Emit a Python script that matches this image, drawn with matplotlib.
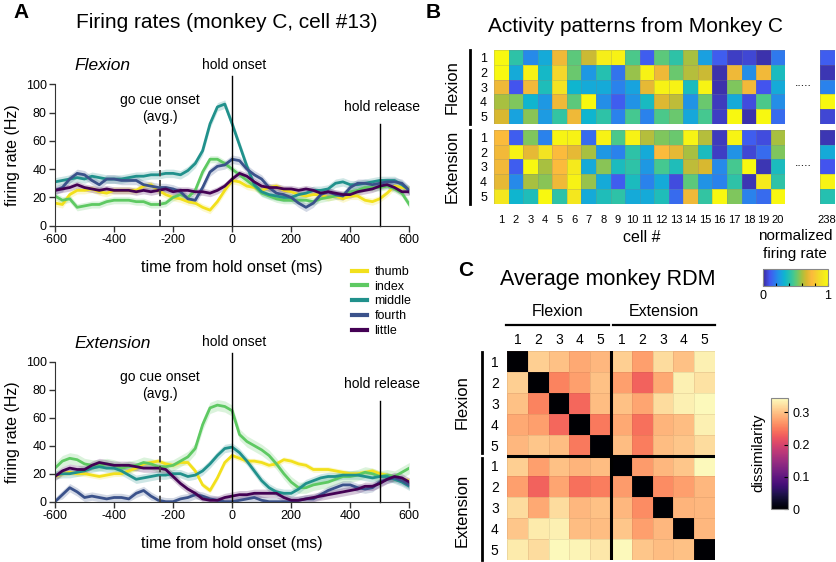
import matplotlib
matplotlib.use("Agg")
import matplotlib.pyplot as plt
import numpy as np
from matplotlib.colors import LinearSegmentedColormap, Normalize
from matplotlib.cm import ScalarMappable
from matplotlib.lines import Line2D

plt.rcParams['font.family'] = ['Liberation Sans', 'DejaVu Sans']
plt.rcParams['axes.unicode_minus'] = False

# ---------------- data ----------------
t = np.arange(-600, 601, 25)
fingers = ["thumb", "index", "middle", "fourth", "little"]
finger_colors = ["#f2e01c", "#5ec962", "#21918c", "#3b528b", "#440154"]

flex_thumb = [16, 15, 22, 25, 25, 26, 24, 23, 25,
              25, 25, 25, 28, 29, 25, 22, 20,
              19, 17, 16, 13, 11, 17, 25, 32,
              31, 28, 27, 25, 27, 28, 25, 24,
              22, 21, 22, 22, 20, 21, 19, 21,
              21, 18, 17, 19, 23, 28, 27, 26]
flex_index = [21, 18, 19, 13, 14, 15, 15, 17, 18,
              18, 18, 17, 17, 15, 15, 16, 20,
              22, 20, 25, 38, 47, 47, 44, 40,
              36, 32, 28, 23, 21, 19, 18, 18,
              18, 18, 17, 19, 20, 21, 22, 24,
              25, 27, 27, 27, 28, 26, 23, 15]
flex_middle = [31, 32, 33, 34, 33, 35, 34, 33, 33,
               33, 34, 35, 35, 36, 36, 37, 37,
               36, 39, 44, 53, 72, 84, 86, 72,
               57, 42, 29, 24, 22, 21, 20, 20,
               22, 23, 25, 25, 26, 30, 31, 29,
               29, 30, 31, 32, 32, 32, 29, 25]
flex_fourth = [25, 27, 33, 37, 36, 32, 29, 33, 33,
               32, 32, 32, 29, 28, 27, 27, 26,
               24, 19, 18, 27, 38, 42, 43, 47,
               46, 40, 36, 33, 27, 23, 22, 20,
               16, 13, 16, 22, 24, 22, 21, 27,
               30, 30, 29, 30, 31, 31, 30, 25]
flex_little = [25, 26, 27, 29, 27, 26, 25, 26, 25,
               25, 25, 24, 25, 24, 25, 26, 24,
               25, 25, 24, 24, 23, 25, 28, 33,
               37, 35, 31, 28, 27, 27, 26, 26,
               25, 26, 25, 23, 24, 23, 22, 22,
               24, 25, 26, 28, 29, 27, 24, 24]

ext_thumb = [18, 20, 21, 20, 20, 19, 18, 19, 20,
             20, 22, 24, 27, 28, 29, 27, 26,
             28, 28, 22, 12, 8, 17, 28, 33,
             31, 29, 29, 28, 26, 27, 30, 29,
             27, 26, 23, 23, 23, 22, 21, 20,
             20, 21, 22, 20, 19, 17, 16, 15]
ext_index = [24, 29, 31, 30, 27, 26, 26, 27, 26,
             24, 25, 26, 28, 27, 25, 25, 26,
             29, 32, 38, 55, 67, 69, 68, 65,
             48, 43, 40, 37, 33, 27, 20, 14,
             10, 10, 12, 13, 14, 16, 18, 18,
             19, 21, 20, 18, 19, 18, 21, 24]
ext_middle = [19, 20, 20, 21, 22, 24, 25, 24, 24,
              22, 19, 16, 17, 18, 19, 19, 20,
              20, 18, 19, 22, 27, 33, 38, 39,
              35, 29, 22, 15, 10, 7, 6, 6,
              9, 13, 15, 17, 18, 18, 19, 19,
              19, 18, 17, 18, 18, 16, 14, 11]
ext_fourth = [0, 5, 10, 7, 3, 4, 3, 2, 3,
              3, 2, 6, 8, 4, 1, 0, 0,
              2, 3, 5, 4, 2, 1, 0, 0,
              1, 2, 3, 1, 0, 0, 0, 0,
              1, 2, 2, 5, 8, 10, 12, 12,
              10, 9, 10, 14, 16, 17, 15, 12]
ext_little = [18, 22, 24, 23, 23, 26, 28, 27, 26,
              26, 26, 25, 24, 24, 24, 23, 18,
              13, 9, 6, 2, 1, 1, 3, 4,
              5, 5, 6, 6, 6, 6, 3, 1,
              1, 2, 3, 4, 5, 6, 7, 8,
              9, 11, 11, 13, 16, 18, 17, 14]

flex_sem = [2.5, 2.5, 3.0, 3.0, 2.5]
ext_sem = [2.0, 4.0, 3.0, 3.0, 3.0]

# normalized activity patterns (rows = finger 1..5, cols = cells 1..20)
flex_pattern = [
    [1.00, 0.42, 0.22, 0.30, 0.72, 0.50, 0.65, 0.95, 0.97, 0.48, 0.12, 0.50, 0.42, 0.60, 0.27, 0.12, 0.05, 0.07, 0.02, 0.18],
    [1.00, 0.30, 0.97, 0.35, 0.85, 0.52, 0.25, 0.40, 0.17, 0.58, 0.97, 0.72, 0.52, 0.62, 0.65, 0.02, 0.72, 0.23, 0.73, 0.37],
    [0.72, 0.10, 0.73, 0.38, 0.90, 0.33, 0.30, 0.30, 0.20, 0.28, 0.70, 0.97, 0.97, 0.37, 0.98, 0.02, 0.55, 0.73, 0.10, 0.30],
    [0.60, 0.55, 0.33, 0.25, 0.72, 0.50, 1.00, 0.23, 0.12, 0.24, 0.36, 0.68, 0.63, 0.24, 0.52, 0.04, 0.30, 0.08, 0.48, 0.23],
    [0.67, 0.28, 0.56, 0.26, 0.43, 0.72, 0.33, 0.42, 0.20, 0.47, 0.20, 0.48, 0.52, 0.29, 0.47, 0.05, 1.00, 0.02, 1.00, 0.15],
]
ext_pattern = [
    [0.75, 0.12, 0.55, 0.20, 0.98, 0.97, 0.15, 0.97, 0.48, 0.97, 0.62, 0.55, 0.52, 0.98, 0.62, 0.04, 0.98, 0.12, 0.08, 0.60],
    [0.73, 0.97, 0.70, 0.90, 0.75, 0.70, 0.60, 0.25, 0.20, 0.42, 0.30, 0.75, 0.70, 0.60, 0.37, 0.05, 0.24, 0.07, 0.15, 0.55],
    [0.73, 0.12, 1.00, 0.60, 0.75, 0.93, 0.30, 0.56, 0.37, 0.42, 0.25, 0.47, 0.38, 0.63, 0.67, 0.22, 0.47, 1.00, 0.03, 0.37],
    [0.70, 0.22, 0.60, 0.56, 0.72, 0.97, 0.58, 0.30, 0.12, 0.37, 0.20, 0.30, 0.08, 0.50, 0.24, 0.20, 0.42, 0.03, 0.93, 0.42],
    [0.92, 0.33, 0.38, 1.00, 0.42, 0.92, 0.30, 0.38, 0.42, 0.30, 0.30, 0.38, 0.15, 0.72, 0.43, 1.00, 0.55, 0.20, 0.15, 1.00],
]
flex_cell238 = [0.12, 0.03, 0.20, 1.00, 0.07]
ext_cell238 = [0.03, 0.30, 0.10, 0.98, 0.40]
cell_labels = [str(i) for i in range(1, 21)]

# average RDM (order: flexion 1-5, extension 1-5)
rdm = [
    [0.000, 0.310, 0.300, 0.283, 0.293, 0.310, 0.276, 0.320, 0.300, 0.335],
    [0.310, 0.000, 0.255, 0.276, 0.300, 0.276, 0.231, 0.283, 0.335, 0.324],
    [0.300, 0.255, 0.000, 0.235, 0.297, 0.300, 0.280, 0.320, 0.335, 0.342],
    [0.283, 0.276, 0.235, 0.000, 0.248, 0.283, 0.242, 0.290, 0.297, 0.335],
    [0.293, 0.304, 0.297, 0.248, 0.000, 0.297, 0.252, 0.297, 0.304, 0.320],
    [0.310, 0.276, 0.300, 0.290, 0.297, 0.000, 0.273, 0.293, 0.304, 0.342],
    [0.276, 0.231, 0.280, 0.242, 0.252, 0.273, 0.000, 0.262, 0.276, 0.293],
    [0.320, 0.283, 0.320, 0.293, 0.300, 0.293, 0.262, 0.000, 0.290, 0.293],
    [0.304, 0.331, 0.335, 0.297, 0.297, 0.304, 0.276, 0.293, 0.000, 0.293],
    [0.331, 0.320, 0.342, 0.338, 0.328, 0.342, 0.304, 0.297, 0.300, 0.000],
]
rdm_max = 0.345

# ---------------- figure helpers ----------------
W, H = 837, 562
fig = plt.figure(figsize=(W / 100, H / 100), dpi=100)


def rect(l, t_, r, b):
    return [l / W, 1 - b / H, (r - l) / W, (b - t_) / H]


def ftext(x, y, s, **kw):
    fig.text(x / W, 1 - y / H, s, **kw)


def fline(x0, y0, x1, y1, **kw):
    fig.add_artist(Line2D([x0 / W, x1 / W], [1 - y0 / H, 1 - y1 / H], **kw))


# parula-like map, anchored on the colours seen in the figure
parula = LinearSegmentedColormap.from_list(
    "parula",
    [(0.00, '#3a2a9c'), (0.10, '#4355f0'), (0.20, '#2a82ec'), (0.27, '#1aa0e0'),
     (0.33, '#0fb5cf'), (0.40, '#25c0b0'), (0.47, '#45c890'), (0.53, '#70c868'),
     (0.60, '#a8c040'), (0.67, '#d8b830'), (0.75, '#fbba3c'), (0.87, '#f2dc28'),
     (1.00, '#f8f810')])

# ---------------- panel A ----------------
ftext(21, 13, "A", fontsize=15, fontweight='bold', ha='center', va='center')
ftext(227, 23, "Firing rates (monkey C, cell #13)", fontsize=15, ha='center', va='center')


def rate_panel(ax, series, sems, name):
    for y, s, c in zip(series, sems, finger_colors):
        y = np.array(y, dtype=float)
        ax.fill_between(t, np.clip(y - s, 0, None), y + s, color=c, alpha=0.22, lw=0)
    for y, c in zip(series, finger_colors):
        ax.plot(t, y, color=c, lw=2)
    ax.set_xlim(-600, 600)
    ax.set_ylim(0, 100)
    ax.set_xticks([-600, -400, -200, 0, 200, 400, 600])
    ax.set_yticks([0, 20, 40, 60, 80, 100])
    for sp in ['top', 'right']:
        ax.spines[sp].set_visible(False)
    for sp in ['left', 'bottom']:
        ax.spines[sp].set_color('#333333')
    ax.tick_params(direction='out', length=4, width=1, color='#333333', labelsize=9, pad=2)
    ax.set_ylabel("firing rate (Hz)", fontsize=11.5, labelpad=4)
    ax.set_xlabel("time from hold onset (ms)", fontsize=11.5, labelpad=10)
    # event markers
    ax.plot([-245, -245], [0, 70], color='#444444', lw=1.3, ls=(0, (3.5, 2)), clip_on=False)
    ax.plot([0, 0], [0, 106], color='k', lw=1, clip_on=False)
    ax.plot([500, 500], [0, 72], color='k', lw=1, clip_on=False)
    ax.text(-245, 89, "go cue onset", fontsize=10, ha='center', va='center')
    ax.text(-245, 77, "(avg.)", fontsize=10, ha='center', va='center')
    ax.text(8, 114, "hold onset", fontsize=10, ha='center', va='center')
    ax.text(507, 84, "hold release", fontsize=10, ha='center', va='center')
    ax.text(-535, 113, name, fontsize=12.5, style='italic', ha='left', va='center')


ax_f = fig.add_axes(rect(55, 84.3, 409.3, 225.7))
rate_panel(ax_f, [flex_thumb, flex_index, flex_middle, flex_fourth, flex_little], flex_sem, "Flexion")
ax_e = fig.add_axes(rect(55, 361.7, 409.3, 501.7))
rate_panel(ax_e, [ext_thumb, ext_index, ext_middle, ext_fourth, ext_little], ext_sem, "Extension")

handles = [Line2D([], [], color=c, lw=3) for c in finger_colors]
fig.legend(handles, fingers, loc='upper left', bbox_to_anchor=(352 / W, 1 - 266 / H),
           frameon=False, fontsize=9, handlelength=1.2, handletextpad=0.6,
           labelspacing=0.22, borderpad=0, borderaxespad=0)

# ---------------- panel B ----------------
ftext(433, 12, "B", fontsize=15, fontweight='bold', ha='center', va='center')
ftext(636, 26, "Activity patterns from Monkey C", fontsize=15, ha='center', va='center')

cell_w = (785.3 - 494) / 20
blocks = [(flex_pattern, flex_cell238, 50, 124, "Flexion"),
          (ext_pattern, ext_cell238, 130, 203.5, "Extension")]
for pat, c238, top, bot, name in blocks:
    ax = fig.add_axes(rect(494, top, 785.3, bot))
    ax.pcolormesh(np.array(pat), cmap=parula, vmin=0, vmax=1,
                  edgecolors=(0.5, 0.5, 0.5, 0.25), linewidth=0.4)
    ax.set_xlim(0, 20)
    ax.set_ylim(5, 0)
    ax.set_yticks(np.arange(5) + 0.5)
    ax.set_yticklabels(["1", "2", "3", "4", "5"], fontsize=9)
    ax.tick_params(length=0, pad=5)
    if name == "Extension":
        ax.set_xticks(np.arange(20) + 0.5)
        ax.set_xticklabels(cell_labels, fontsize=8)
        ax.tick_params(axis='x', pad=8)
    else:
        ax.set_xticks([])
    for sp in ax.spines.values():
        sp.set_visible(False)
    ax2 = fig.add_axes(rect(820, top, 820 + cell_w, bot))
    ax2.pcolormesh(np.array(c238)[:, None], cmap=parula, vmin=0, vmax=1,
                   edgecolors=(0.5, 0.5, 0.5, 0.25), linewidth=0.4)
    ax2.set_ylim(5, 0)
    ax2.set_yticks([])
    if name == "Extension":
        ax2.set_xticks([0.5])
        ax2.set_xticklabels(["238"], fontsize=8)
        ax2.tick_params(axis='x', length=0, pad=8)
    else:
        ax2.set_xticks([])
    for sp in ax2.spines.values():
        sp.set_visible(False)
    fline(470, top, 470, bot, color='k', lw=2)
    ftext(452, (top + bot) / 2, name, fontsize=12, rotation=90, ha='center', va='center')
    ftext(803, (top + bot) / 2 - 4, ".....", fontsize=9, ha='center', va='center')

ftext(642, 237, "cell #", fontsize=11.5, ha='center', va='center')
ftext(795, 236, "normalized", fontsize=11, ha='center', va='center')
ftext(795, 254, "firing rate", fontsize=11, ha='center', va='center')
cax1 = fig.add_axes(rect(763, 269, 828, 286))
cb1 = fig.colorbar(ScalarMappable(Normalize(0, 1), parula), cax=cax1, orientation='horizontal')
cb1.set_ticks([0, 0.2, 0.4, 0.6, 0.8, 1])
cb1.set_ticklabels(["0", "", "", "", "", "1"])
cb1.ax.tick_params(direction='in', length=2, labelsize=9, pad=3)
cb1.outline.set_edgecolor('#888888')

# ---------------- panel C ----------------
ftext(466, 270, "C", fontsize=15, fontweight='bold', ha='center', va='center')
ftext(608, 280, "Average monkey RDM", fontsize=15.5, ha='center', va='center')

axr = fig.add_axes(rect(507, 351, 715, 560))
axr.pcolormesh(np.array(rdm), cmap='magma', vmin=0, vmax=rdm_max,
               edgecolors=(0.5, 0.3, 0.2, 0.12), linewidth=0.4)
axr.set_xlim(0, 10)
axr.set_ylim(10, 0)
axr.axvline(5, color='k', lw=2.2)
axr.axhline(5, color='k', lw=2.2)
nums = ["1", "2", "3", "4", "5"] * 2
axr.set_xticks(np.arange(10) + 0.5)
axr.set_xticklabels(nums, fontsize=10)
axr.xaxis.tick_top()
axr.set_yticks(np.arange(10) + 0.5)
axr.set_yticklabels(nums, fontsize=10)
axr.tick_params(length=0, pad=3)
axr.tick_params(axis='y', pad=6)
for sp in axr.spines.values():
    sp.set_visible(False)

ftext(558, 312, "Flexion", fontsize=11.5, ha='center', va='center')
ftext(664, 312, "Extension", fontsize=11.5, ha='center', va='center')
fline(506, 325, 609, 325, color='k', lw=1.6)
fline(613, 325, 715, 325, color='k', lw=1.6)
fline(482, 352, 482, 453, color='k', lw=2)
fline(482, 458, 482, 560, color='k', lw=2)
ftext(462, 402, "Flexion", fontsize=12, rotation=90, ha='center', va='center')
ftext(462, 510, "Extension", fontsize=12, rotation=90, ha='center', va='center')

cax2 = fig.add_axes(rect(771, 398, 788, 509))
cb2 = fig.colorbar(ScalarMappable(Normalize(0, rdm_max), 'magma'), cax=cax2)
cb2.set_ticks([0, 0.1, 0.2, 0.3])
cb2.set_ticklabels(["0", "0.1", "0.2", "0.3"])
cb2.ax.tick_params(direction='in', length=3, labelsize=9, pad=3)
cb2.outline.set_edgecolor('#888888')
ftext(758, 453, "dissimilarity", fontsize=11, rotation=90, ha='center', va='center')

fig.savefig("out.png", dpi=100)
